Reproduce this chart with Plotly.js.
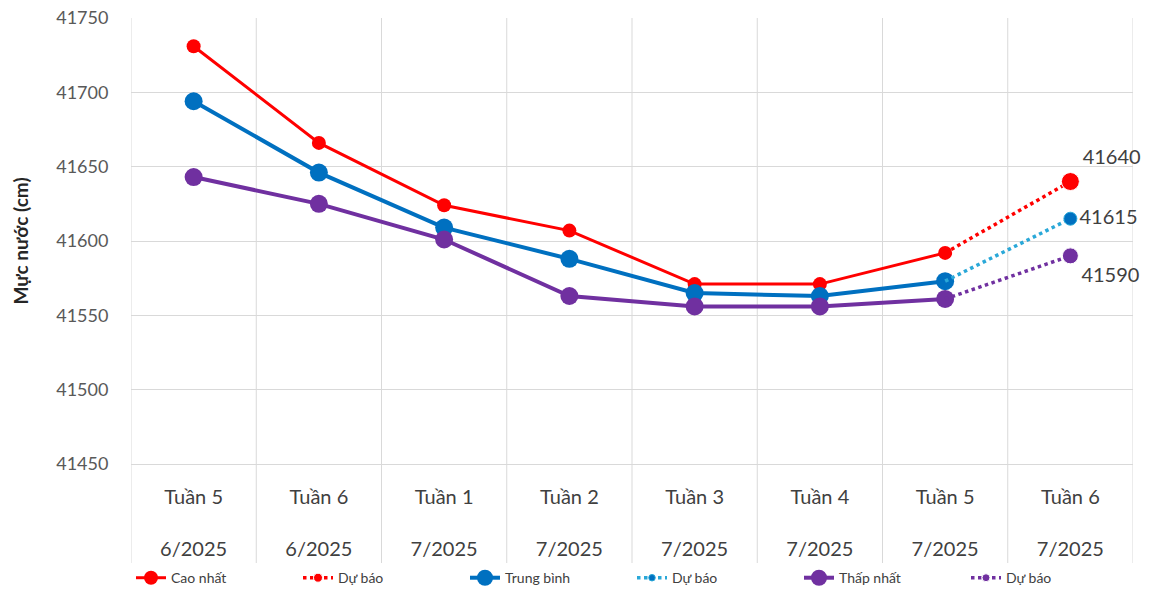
<!DOCTYPE html>
<html>
<head>
<meta charset="utf-8">
<script src="https://cdn.plot.ly/plotly-3.0.1.min.js"></script>
<style>html,body{margin:0;padding:0;background:#fff}#chart{width:1164px;height:596px}</style>
</head>
<body>
<div id="chart"></div>
<script>
const weeks = ["Tuần 5", "Tuần 6", "Tuần 1", "Tuần 2", "Tuần 3", "Tuần 4", "Tuần 5", "Tuần 6"];
const months = ["6/2025", "6/2025", "7/2025", "7/2025", "7/2025", "7/2025", "7/2025", "7/2025"];
const cats = weeks.map((w, i) => w + " " + months[i] + " #" + i);
const tickLabels = weeks.map((w, i) => w + "<br><br>" + months[i]);

const highObs = [41731, 41666, 41624, 41607, 41571, 41571, 41592];
const avgObs  = [41694, 41646, 41609, 41588, 41565, 41563, 41573];
const lowObs  = [41643, 41625, 41601, 41563, 41556, 41556, 41561];
const highFc = [41592, 41640];
const avgFc  = [41573, 41615];
const lowFc  = [41561, 41590];

const obsX = cats.slice(0, 7);
const fcX = cats.slice(6, 8);

const RED = "#ff0000", BLUE = "#0070c0", BLUE_FC = "#2aa8d8", PURPLE = "#7030a0";
const fcText = arr => arr.map((v, i) => i === arr.length - 1 ? String(v) : "");
const LBL = {size: 20, color: "#404040", family: "Lato"};

const traces = [
  {x: obsX, y: highObs, name: "Cao nhất", mode: "lines+markers",
   line: {color: RED, width: 3}, marker: {color: RED, size: 14, opacity: 1}},
  {x: fcX, y: highFc, name: "Dự báo", mode: "lines+markers+text", cliponaxis: false,
   line: {color: RED, width: 3.5, dash: "dot"}, marker: {color: RED, size: [0, 18], opacity: 1},
   text: fcText(highFc), textposition: "top right", textfont: LBL},
  {x: obsX, y: avgObs, name: "Trung bình", mode: "lines+markers",
   line: {color: BLUE, width: 4}, marker: {color: BLUE, size: 18, opacity: 1}},
  {x: fcX, y: avgFc, name: "Dự báo", mode: "lines+markers+text", cliponaxis: false,
   line: {color: BLUE_FC, width: 3.5, dash: "dot"}, marker: {color: BLUE, size: [0, 13], opacity: 1},
   text: fcText(avgFc), textposition: "middle right", textfont: LBL},
  {x: obsX, y: lowObs, name: "Thấp nhất", mode: "lines+markers",
   line: {color: PURPLE, width: 4}, marker: {color: PURPLE, size: 18, opacity: 1}},
  {x: fcX, y: lowFc, name: "Dự báo", mode: "lines+markers+text", cliponaxis: false,
   line: {color: PURPLE, width: 3.5, dash: "dot"}, marker: {color: PURPLE, size: [0, 16], opacity: 1},
   text: fcText(lowFc), textposition: "bottom right", textfont: LBL}
];

const GRID = "#d9d9d9";
const shapes = [];
for (let i = 0; i <= cats.length; i++) {
  shapes.push({type: "line", xref: "x", yref: "paper", x0: i - 0.5, x1: i - 0.5,
    y0: -0.222, y1: 1, line: {color: GRID, width: 1}, layer: "below"});
}

const layout = {
  width: 1164, height: 596,
  margin: {l: 131, r: 31, t: 18, b: 132, autoexpand: false},
  paper_bgcolor: "#fff", plot_bgcolor: "#fff",
  font: {family: "Lato, 'Open Sans', sans-serif", color: "#404040"},
  showlegend: true,
  legend: {orientation: "h", xref: "paper", x: 0.0, xanchor: "left",
    yref: "container", y: 0.03, yanchor: "middle", bgcolor: "rgba(0,0,0,0)",
    font: {size: 14, color: "#404040"}, entrywidth: 122, entrywidthmode: "pixels"},
  xaxis: {type: "category", categoryorder: "array", categoryarray: cats,
    tickvals: cats, ticktext: tickLabels, range: [-0.5, 7.5],
    showgrid: false, showline: true, linecolor: GRID, ticks: "",
    ticklabelstandoff: 15,
    tickfont: {size: 20, color: "#404040"}, fixedrange: true},
  yaxis: {range: [41450, 41750], dtick: 50, tick0: 41450, tickformat: "d",
    showgrid: true, gridcolor: GRID,
    zeroline: false, ticks: "outside", ticklen: 18, tickcolor: "rgba(0,0,0,0)",
    tickfont: {size: 18, color: "#595959"},
    title: {text: "<b>Mực nước (cm)</b>", font: {size: 19, color: "#262626", family: "Lato"}, standoff: 22}},
  shapes: shapes
};

Plotly.newPlot("chart", traces, layout, {displayModeBar: false, staticPlot: true});
</script>
</body>
</html>
